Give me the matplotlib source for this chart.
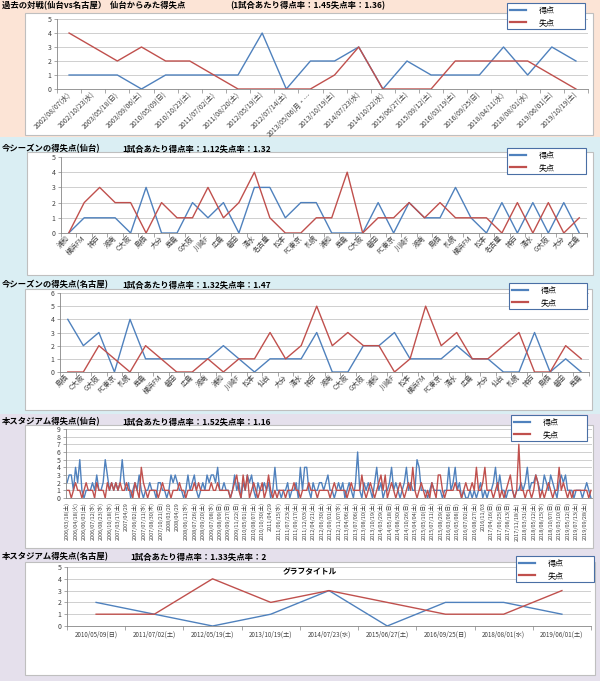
import matplotlib
matplotlib.use("Agg")
import matplotlib.pyplot as plt
from matplotlib.patches import Rectangle
import numpy as np

plt.rcParams['font.family'] = ['Noto Sans CJK JP', 'DejaVu Sans']

W, H = 600, 681
BLUE = '#4F81BD'
RED = '#C0504D'

## DATA

# past matches Sendai vs Nagoya (from Sendai side)
h2h_dates = ['2002/08/07(水)', '2002/10/23(水)', '2003/05/18(日)', '2003/09/06(土)',
             '2010/05/09(日)', '2010/10/23(土)', '2011/07/02(土)', '2011/08/20(土)',
             '2012/05/19(土)', '2012/07/14(土)', '2013/05/06(月・…', '2013/10/19(土)',
             '2014/07/23(水)', '2014/10/22(水)', '2015/06/27(土)', '2015/09/12(土)',
             '2016/03/19(土)', '2016/09/25(日)', '2018/04/11(水)', '2018/08/01(水)',
             '2019/06/01(土)', '2019/10/19(土)']
h2h_for = [1, 1, 1, 0, 1, 1, 1, 1, 4, 0, 2, 2, 3, 0, 2, 1, 1, 1, 3, 1, 3, 2]
h2h_against = [4, 3, 2, 3, 2, 2, 1, 0, 0, 0, 0, 1, 3, 0, 0, 0, 2, 2, 2, 2, 1, 0]

# this season, Sendai
sendai_opp = ['浦和', '横浜FM', '神戸', '湘南', 'C大阪', '鳥栖', '大分', '鹿島', 'G大阪',
              '川崎F', '広島', '磐田', '清水', '名古屋', '松本', 'FC東京', '札幌',
              '浦和', '鹿島', 'C大阪', '磐田', 'FC東京', '川崎F', '湘南', '鳥栖', '札幌',
              '横浜FM', '松本', '名古屋', '神戸', '清水', 'G大阪', '大分', '広島']
sendai_for = [0, 1, 1, 1, 0, 3, 0, 0, 2, 1, 2, 0, 3, 3, 1, 2, 2,
              0, 0, 0, 2, 0, 2, 1, 1, 3, 1, 0, 2, 0, 2, 0, 2, 0]
sendai_against = [0, 2, 3, 2, 2, 0, 2, 1, 1, 3, 1, 2, 4, 1, 0, 0, 1,
                  1, 4, 0, 1, 1, 2, 1, 2, 1, 1, 1, 0, 2, 0, 2, 0, 1]

# this season, Nagoya
nagoya_opp = ['鳥栖', 'C大阪', 'G大阪', 'FC東京', '札幌', '鹿島', '横浜FM', '磐田', '広島',
              '湘南', '浦和', '川崎F', '松本', '仙台', '大分', '清水', '神戸',
              '湘南', 'C大阪', 'G大阪', '浦和', '川崎F', '松本', '横浜FM', 'FC東京', '清水',
              '広島', '大分', '仙台', '札幌', '神戸', '鳥栖', '磐田', '鹿島']
nagoya_for = [4, 2, 3, 0, 4, 1, 1, 1, 1, 1, 2, 1, 0, 1, 1, 1, 3,
              0, 0, 2, 2, 3, 1, 1, 1, 2, 1, 1, 0, 0, 3, 0, 1, 0]
nagoya_against = [0, 0, 2, 1, 0, 2, 1, 0, 0, 1, 0, 1, 1, 3, 1, 2, 5,
                  2, 3, 2, 2, 0, 1, 5, 2, 3, 1, 1, 2, 3, 0, 0, 2, 1]

# home stadium, Sendai (labels shown every 4th match)
stadium_labels = ['2006/03/18(土)', '2006/04/18(火)', '2006/06/03(土)', '2006/07/12(水)',
                  '2006/08/23(水)', '2006/10/18(水)', '2007/03/17(土)', '2007/04/29',
                  '2007/06/02(土)', '2007/07/11(水)', '2007/08/30(木)', '2007/10/21(日)',
                  '2008/03/20', '2008/04/29', '2008/06/11(水)', '2008/07/26(土)',
                  '2008/09/20(土)', '2009/07/08(水)', '2009/08/09(日)', '2009/09/27(日)',
                  '2009/11/22(日)', '2010/05/01(土)', '2010/08/07(土)', '2010/10/30(土)',
                  '2011/04/29', '2011/06/15(水)', '2011/07/23(土)', '2011/09/17(土)',
                  '2011/12/03(土)', '2012/04/21(土)', '2012/06/30(土)', '2012/09/01(土)',
                  '2012/11/07(水)', '2013/04/06(土)', '2013/07/06(土)', '2013/08/10(土)',
                  '2013/10/19(土)', '2014/03/29(土)', '2014/05/18(日)', '2014/08/30(土)',
                  '2014/10/26(日)', '2015/04/04(土)', '2015/05/10(日)', '2015/07/11(土)',
                  '2015/08/29(土)', '2016/03/06(日)', '2016/05/08(日)', '2016/07/02(土)',
                  '2016/08/27(土)', '2016/11/03', '2017/04/16(日)', '2017/06/25(日)',
                  '2017/08/13(日)', '2017/11/18(土)', '2018/03/31(土)', '2018/05/12(土)',
                  '2018/08/15(水)', '2018/10/07(日)', '2019/03/10(日)', '2019/05/12(日)',
                  '2019/07/13(土)', '2019/09/28(土)']
stadium_for = [2, 3, 3, 1, 4, 2, 5, 1, 0, 1, 1, 1, 2, 1, 3, 1, 1, 2, 5, 3,
               1, 2, 1, 2, 1, 2, 5, 2, 1, 2, 0, 1, 2, 1, 3, 1, 0, 1, 1, 2,
               1, 1, 0, 2, 2, 1, 1, 0, 1, 3, 2, 3, 2, 1, 1, 0, 1, 3, 1, 2,
               3, 1, 0, 1, 2, 1, 3, 2, 3, 3, 2, 4, 1, 1, 2, 1, 1, 0, 1, 3,
               1, 2, 0, 2, 1, 3, 2, 3, 1, 0, 2, 1, 1, 2, 1, 2, 0, 1, 4, 1,
               1, 0, 1, 1, 2, 0, 1, 1, 2, 0, 4, 1, 4, 4, 1, 0, 2, 1, 1, 2,
               2, 1, 2, 3, 1, 1, 0, 1, 2, 1, 2, 0, 1, 2, 1, 0, 2, 6, 1, 0,
               2, 1, 2, 1, 0, 2, 4, 1, 2, 0, 1, 1, 2, 4, 1, 2, 1, 0, 1, 2,
               4, 1, 2, 1, 1, 5, 4, 1, 1, 1, 0, 1, 2, 1, 1, 1, 1, 0, 1, 1,
               4, 1, 2, 4, 1, 2, 0, 1, 0, 0, 1, 0, 1, 0, 1, 2, 0, 1, 0, 1,
               1, 2, 4, 1, 3, 1, 1, 0, 1, 1, 1, 0, 1, 1, 2, 1, 2, 4, 1, 2,
               2, 3, 2, 1, 1, 3, 2, 1, 3, 2, 1, 0, 2, 3, 2, 3, 1, 1, 1, 0,
               1, 1, 1, 0, 1, 2, 1, 0]
stadium_against = [1, 1, 0, 1, 2, 1, 1, 0, 1, 2, 1, 1, 1, 0, 2, 1, 1, 1, 0, 2,
                   1, 2, 1, 2, 1, 2, 1, 1, 2, 1, 1, 0, 2, 1, 0, 4, 2, 1, 0, 1,
                   1, 1, 1, 0, 1, 2, 1, 1, 1, 0, 1, 1, 1, 2, 1, 1, 0, 1, 1, 1,
                   2, 1, 2, 1, 1, 1, 1, 1, 2, 1, 1, 2, 1, 1, 1, 1, 1, 0, 1, 2,
                   3, 1, 0, 3, 1, 3, 0, 1, 2, 1, 0, 1, 2, 0, 1, 3, 1, 0, 1, 0,
                   1, 1, 1, 0, 1, 1, 1, 2, 1, 1, 0, 1, 1, 1, 2, 1, 1, 1, 0, 1,
                   1, 1, 1, 1, 0, 1, 2, 1, 1, 1, 1, 1, 0, 1, 2, 1, 1, 1, 1, 3,
                   1, 0, 1, 2, 1, 0, 1, 2, 3, 1, 3, 0, 1, 2, 1, 0, 1, 2, 1, 0,
                   1, 2, 1, 4, 1, 0, 1, 2, 1, 0, 1, 0, 2, 1, 0, 3, 3, 1, 0, 1,
                   1, 1, 1, 2, 1, 1, 0, 1, 2, 1, 1, 2, 1, 4, 1, 1, 2, 4, 1, 1,
                   1, 0, 1, 2, 0, 1, 0, 1, 2, 3, 1, 0, 1, 7, 1, 1, 0, 1, 1, 0,
                   1, 3, 2, 0, 1, 0, 1, 2, 1, 0, 1, 1, 4, 1, 2, 1, 0, 1, 0, 1,
                   1, 1, 1, 1, 1, 1, 0, 1]

# home stadium, Nagoya
visit_dates = ['2010/05/09(日)', '2011/07/02(土)', '2012/05/19(土)', '2013/10/19(土)',
               '2014/07/23(水)', '2015/06/27(土)', '2016/09/25(日)', '2018/08/01(水)',
               '2019/06/01(土)']
visit_for = [2, 1, 0, 1, 3, 0, 2, 2, 1]
visit_against = [1, 1, 4, 2, 3, 2, 1, 1, 3]


def fbox(x0, y0, x1, y1):
    # pixel box (top-left origin) -> figure fraction [left, bottom, width, height]
    return [x0 / W, 1 - y1 / H, (x1 - x0) / W, (y1 - y0) / H]


def rect(x0, y0, x1, y1, face, edge='none', lw=0, z=-2):
    l, b, w, h = fbox(x0, y0, x1, y1)
    fig.patches.append(Rectangle((l, b), w, h, transform=fig.transFigure,
                                 facecolor=face, edgecolor=edge, lw=lw, zorder=z))


def chart(box, legbox, labels, goals, conceded, ymax, rot, fs, every=1):
    ax = fig.add_axes(fbox(*box))
    ax.set_facecolor('none')
    x = np.arange(len(goals))
    ax.plot(x, goals, color=BLUE, lw=1.0, label='得点')            # goals for
    ax.plot(x, conceded, color=RED, lw=1.0, label='失点')          # goals against
    ax.set_xlim(-0.5, len(goals) - 0.5)
    ax.set_ylim(0, ymax)
    ax.set_yticks(range(ymax + 1))
    ax.tick_params(axis='y', labelsize=5, colors='#868686', labelcolor='#404040',
                   length=2, width=0.5, pad=2)
    ax.yaxis.grid(True, color='#C8C8C8', lw=0.6)
    ax.set_axisbelow(True)
    for s in ['top', 'right']:
        ax.spines[s].set_visible(False)
    for s in ['left', 'bottom']:
        ax.spines[s].set_color('#868686')
        ax.spines[s].set_linewidth(0.6)

    # tick marks between categories, labels at categories
    if every == 1:
        ax.set_xticks(np.arange(len(goals) + 1) - 0.5)
    else:
        ax.set_xticks([])
    ax.tick_params(axis='x', which='major', length=3, width=0.5, colors='#868686',
                   labelbottom=False)
    ax.set_xticks(x[::every], labels, minor=True)
    if rot == 45:
        ax.tick_params(axis='x', which='minor', length=0, pad=3, labelsize=fs,
                       labelcolor='#404040')
        for t in ax.get_xticklabels(minor=True):
            t.set_rotation(45)
            t.set_ha('right')
            t.set_va('center')
            t.set_rotation_mode('anchor')
    else:
        ax.tick_params(axis='x', which='minor', length=0, pad=3, labelsize=fs,
                       labelcolor='#404040', labelrotation=rot)

    l, b, w, h = fbox(*legbox)
    leg = ax.legend(loc='upper left', bbox_to_anchor=(l, b, w, h),
                    bbox_transform=fig.transFigure, mode='expand', fontsize=5.8,
                    fancybox=False, edgecolor='#4A6FA5', framealpha=1,
                    handlelength=2.0, handletextpad=1.6, borderpad=0.35,
                    labelspacing=0.35, borderaxespad=0)
    leg.get_frame().set_linewidth(0.8)
    for line in leg.get_lines():
        line.set_linewidth(1.6)
    return ax


fig = plt.figure(figsize=(W / 100, H / 100), dpi=100)

# panel backgrounds
rect(0, 0, 600, 137, '#FCE4D6', z=-3)
rect(0, 137, 600, 414, '#DAEEF3', z=-3)
rect(0, 414, 600, 681, '#E5E0EC', z=-3)

# white chart areas
rect(25, 13, 593, 135, 'white', '#BFBFBF', 0.8)
rect(27, 152, 593, 275, 'white', '#BFBFBF', 0.8)
rect(25, 289, 592, 410, 'white', '#BFBFBF', 0.8)
rect(25, 425, 593, 548, 'white', '#BFBFBF', 0.8)
rect(25, 562, 595, 675, 'white', '#BFBFBF', 0.8)

# titles
tk = dict(fontsize=6.0, fontweight='bold', va='center')
fig.text(2 / W, 1 - 6 / H, '過去の対戦(仙台vs名古屋）  仙台からみた得失点', **tk)
fig.text(230 / W, 1 - 6 / H, '(1試合あたり得点率：1.45失点率：1.36)', **tk)
fig.text(2 / W, 1 - 149 / H, '今シーズンの得失点(仙台)', **tk)
fig.text(122 / W, 1 - 149 / H, '1試合あたり得点率：1.12失点率：1.32', **tk)
fig.text(2 / W, 1 - 285 / H, '今シーズンの得失点(名古屋)', **tk)
fig.text(122 / W, 1 - 285 / H, '1試合あたり得点率：1.32失点率：1.47', **tk)
fig.text(2 / W, 1 - 422 / H, '本スタジアム得失点(仙台)', **tk)
fig.text(122 / W, 1 - 422 / H, '1試合あたり得点率：1.52失点率：1.16', **tk)
fig.text(2 / W, 1 - 557 / H, '本スタジアム得失点(名古屋)', **tk)
fig.text(130 / W, 1 - 557 / H, '1試合あたり得点率：1.33失点率：2', **tk)

chart((57, 19, 588, 89), (507, 3, 585, 30), h2h_dates, h2h_for, h2h_against, 5, 45, 5.0)
chart((61, 157, 587, 233), (507, 148, 586, 175), sendai_opp, sendai_for, sendai_against, 5, 45, 5.0)
chart((60, 293, 589, 372), (509, 283, 587, 310), nagoya_opp, nagoya_for, nagoya_against, 6, 45, 5.0)
chart((66, 429, 592, 498), (511, 415, 587, 443), stadium_labels, stadium_for, stadium_against,
      9, 90, 4.0, every=4)
ax5 = chart((67, 567, 591, 626), (516, 556, 594, 582), visit_dates, visit_for, visit_against, 5, 0, 4.5)
fig.text(310 / W, 1 - 572 / H, 'グラフタイトル', fontsize=5.6, fontweight='bold',
         ha='center', va='center')

fig.savefig('out.png', dpi=100)
